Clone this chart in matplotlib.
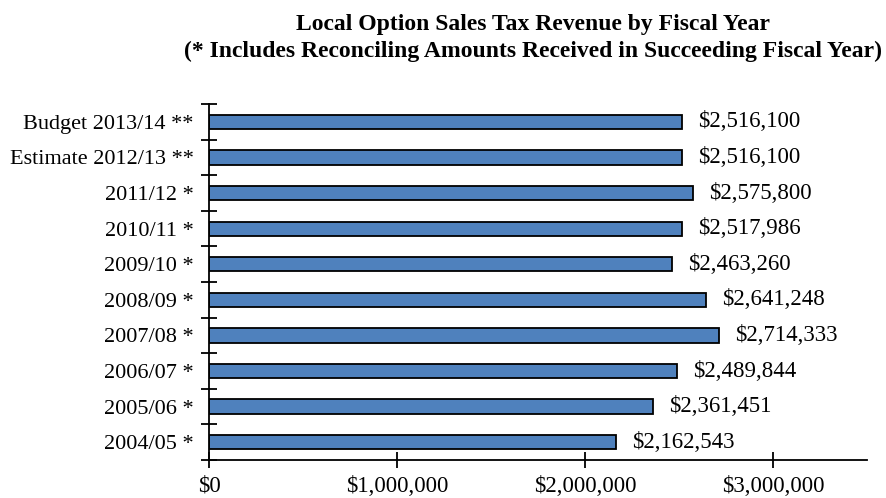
import numpy as np
import matplotlib.pyplot as plt
from matplotlib.ticker import FuncFormatter, FixedLocator

plt.rcParams['font.family'] = ['Liberation Serif', 'DejaVu Serif']

# fiscal years, bottom to top
years = ['2004/05 *', '2005/06 *', '2006/07 *', '2007/08 *', '2008/09 *',
         '2009/10 *', '2010/11 *', '2011/12 *', 'Estimate 2012/13 **',
         'Budget 2013/14 **']
revenue = [2162543, 2361451, 2489844, 2714333, 2641248,
           2463260, 2517986, 2575800, 2516100, 2516100]
x_ticks = [0, 1000000, 2000000, 3000000]

fig = plt.figure(figsize=(8.87, 4.98), dpi=100)
ax = fig.add_axes([0.2356, 0.0763, 0.742, 0.7147])

y = np.arange(len(years))
ax.barh(y, revenue, height=0.4, color='#4F81BD', edgecolor='black', linewidth=1.3)

for yi, v in zip(y, revenue):
    ax.annotate(f'${v:,}', xy=(v, yi), xytext=(11.5, 0), textcoords='offset points',
                va='center', ha='left', fontsize=16.5)

ax.set_xlim(0, 3500000)
ax.set_ylim(-0.5, len(years) - 0.5)

ax.set_yticks(y)
ax.set_yticklabels(years, fontsize=16)
ax.yaxis.set_minor_locator(FixedLocator(np.arange(-0.5, len(years), 1.0)))
ax.tick_params(axis='y', which='major', length=0, pad=11)
ax.tick_params(axis='y', which='minor', direction='inout', length=11, width=1.3)

ax.set_xticks(x_ticks)
ax.xaxis.set_major_formatter(FuncFormatter(lambda v, p: f'${v:,.0f}'))
ax.tick_params(axis='x', direction='inout', length=11, width=1.3, labelsize=16.5, pad=6)

for s in ['top', 'right']:
    ax.spines[s].set_visible(False)
for s in ['left', 'bottom']:
    ax.spines[s].set_linewidth(1.3)

fig.text(0.601, 0.940, 'Local Option Sales Tax Revenue by Fiscal Year',
         ha='center', va='baseline', fontsize=17, fontweight='bold')
fig.text(0.601, 0.8855, '(* Includes Reconciling Amounts Received in Succeeding Fiscal Year)',
         ha='center', va='baseline', fontsize=17, fontweight='bold')

fig.savefig('out.png', dpi=100)
